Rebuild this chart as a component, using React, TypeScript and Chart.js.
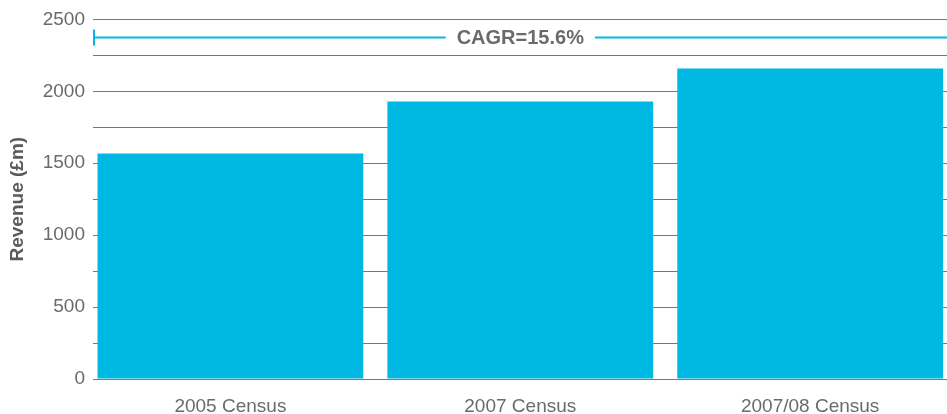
import React, { useEffect, useRef } from "react";
import { Chart, registerables } from "chart.js";

Chart.register(...registerables);

const categories = ["2005 Census", "2007 Census", "2007/08 Census"];
const revenue = [1567, 1929, 2159];
const yTickStep = 250;
const yLabelStep = 500;
const yMax = 2500;
const cagrLabel = "CAGR=15.6%";
const cagrLevel = 2375;

const BAR_COLOR = "#00b9e3";
const GRID_COLOR = "#777777";
const TEXT_COLOR = "#6a6a6a";
const FONT = "'Liberation Sans', Arial, Helvetica, sans-serif";

const cagrPlugin = {
  id: "cagr",
  afterDatasetsDraw(chart: any) {
    const { ctx, chartArea, scales } = chart;
    const y = scales.y.getPixelForValue(cagrLevel);
    const left = chartArea.left + 1;
    const right = chartArea.right;
    ctx.save();
    ctx.font = `bold 20px ${FONT}`;
    const tw = ctx.measureText(cagrLabel).width;
    const cx = scales.x.getPixelForValue(1);
    const gap = 11;
    ctx.strokeStyle = BAR_COLOR;
    ctx.lineWidth = 2;
    ctx.beginPath();
    ctx.moveTo(left, y);
    ctx.lineTo(cx - tw / 2 - gap, y);
    ctx.moveTo(cx + tw / 2 + gap, y);
    ctx.lineTo(right, y);
    ctx.stroke();
    ctx.beginPath();
    ctx.moveTo(left, y - 8);
    ctx.lineTo(left, y + 8);
    ctx.stroke();
    ctx.fillStyle = TEXT_COLOR;
    ctx.textAlign = "center";
    ctx.textBaseline = "middle";
    ctx.fillText(cagrLabel, cx, y + 1);
    ctx.restore();
  },
};

export default function App() {
  const ref = useRef<HTMLCanvasElement>(null);
  useEffect(() => {
    document.body.style.margin = "0";
    const chart = new Chart(ref.current!, {
      type: "bar",
      data: {
        datasets: [
          {
            data: revenue.map((v, i) => ({ x: i, y: v })),
            backgroundColor: BAR_COLOR,
            borderWidth: 0,
            barPercentage: 0.917,
            categoryPercentage: 1,
          },
        ],
      },
      plugins: [cagrPlugin],
      options: {
        animation: false,
        responsive: false,
        maintainAspectRatio: false,
        layout: { padding: { top: 12, right: 0, left: 0, bottom: 0 } },
        plugins: { legend: { display: false }, tooltip: { enabled: false } },
        scales: {
          x: {
            type: "linear",
            min: -0.474,
            max: 2.472,
            offset: false,
            grid: { display: false, drawTicks: false },
            border: { display: false },
            afterBuildTicks: (axis: any) => {
              axis.ticks = categories.map((_, i) => ({ value: i }));
            },
            afterFit: (axis: any) => {
              axis.height = 35;
            },
            ticks: {
              autoSkip: false,
              maxRotation: 0,
              padding: 16,
              color: TEXT_COLOR,
              font: { family: FONT, size: 19 },
              callback: (v: any) => categories[v as number] ?? "",
            },
          },
          y: {
            min: 0,
            max: yMax,
            grid: { color: GRID_COLOR, lineWidth: 1, drawTicks: false },
            border: { display: false },
            afterFit: (axis: any) => {
              axis.width = 93;
            },
            ticks: {
              stepSize: yTickStep,
              padding: 8,
              color: TEXT_COLOR,
              font: { family: FONT, size: 19 },
              callback: (v: any) => ((v as number) % yLabelStep === 0 ? String(v) : ""),
            },
            title: {
              display: true,
              text: "Revenue (£m)",
              color: "#5a5a5a",
              font: { family: FONT, size: 19, weight: "bold" },
              padding: { top: 6, bottom: 4 },
            },
          },
        },
      },
    } as any);
    return () => chart.destroy();
  }, []);
  return (
    <div style={{ width: 947, height: 414 }}>
      <canvas ref={ref} width={947} height={414} style={{ width: 947, height: 414 }} />
    </div>
  );
}
